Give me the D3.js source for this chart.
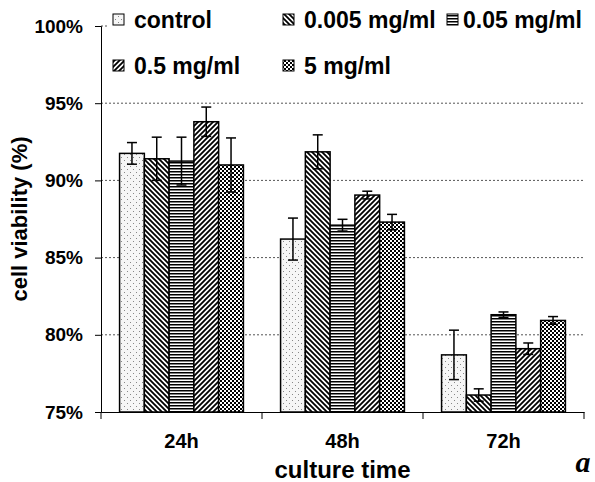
<!DOCTYPE html>
<html>
<head>
<meta charset="utf-8">
<script src="https://cdn.jsdelivr.net/npm/d3@7"></script>
<style>
  body { margin:0; background:#fff; }
  text { font-family: Arial, "Liberation Sans", sans-serif; font-weight:bold; fill:#000; }
</style>
</head>
<body>
<svg id="chart" width="595" height="482"></svg>
<script>
var times = ["24h", "48h", "72h"];
var series = ["control", "0.005 mg/ml", "0.05 mg/ml", "0.5 mg/ml", "5 mg/ml"];
// mean viability (%) per series, per time
var means = [
  [91.75, 86.2, 78.7],
  [91.4, 91.85, 76.1],
  [91.25, 87.1, 81.3],
  [93.8, 89.05, 79.1],
  [91.0, 87.3, 80.93]
];
var errs = [
  [0.7, 1.36, 1.6],
  [1.4, 1.1, 0.4],
  [1.55, 0.38, 0.18],
  [0.95, 0.25, 0.37],
  [1.75, 0.5, 0.25]
];
var yTicks = [75, 80, 85, 90, 95, 100];
var patIds = ["p_dots", "p_back", "p_horiz", "p_fwd", "p_check"];

var svg = d3.select("#chart");
var mLeft = 101, mRight = 584, mTop = 26, mBottom = 412;

var x = d3.scaleBand().domain(times).range([mLeft, mRight]).paddingInner(0).paddingOuter(0);
var xs = d3.scaleBand().domain(series).range([0, x.bandwidth()]).paddingOuter(0.75);
var y = d3.scaleLinear().domain([75, 100]).range([mBottom, mTop]);

// patterns
var defs = svg.append("defs");
var p = defs.append("pattern").attr("id", "p_dots").attr("patternUnits", "userSpaceOnUse").attr("width", 6).attr("height", 6);
p.append("rect").attr("width", 6).attr("height", 6).attr("fill", "#f6f6f6");
p.append("rect").attr("x", 1).attr("y", 1).attr("width", 1).attr("height", 1).attr("fill", "#888");
p.append("rect").attr("x", 4).attr("y", 4).attr("width", 1).attr("height", 1).attr("fill", "#888");

p = defs.append("pattern").attr("id", "p_back").attr("patternUnits", "userSpaceOnUse").attr("width", 5).attr("height", 5);
p.append("rect").attr("width", 5).attr("height", 5).attr("fill", "#fff");
p.append("path").attr("d", "M-1,-1L6,6M4,-1L6,1M-1,4L1,6").attr("stroke", "#000").attr("stroke-width", 1.8);

p = defs.append("pattern").attr("id", "p_horiz").attr("patternUnits", "userSpaceOnUse").attr("width", 4).attr("height", 3);
p.append("rect").attr("width", 4).attr("height", 3).attr("fill", "#fff");
p.append("rect").attr("y", 0).attr("width", 4).attr("height", 1.5).attr("fill", "#000");

p = defs.append("pattern").attr("id", "p_fwd").attr("patternUnits", "userSpaceOnUse").attr("width", 5).attr("height", 5);
p.append("rect").attr("width", 5).attr("height", 5).attr("fill", "#fff");
p.append("path").attr("d", "M-1,6L6,-1M4,6L6,4M-1,1L1,-1").attr("stroke", "#000").attr("stroke-width", 1.8);

p = defs.append("pattern").attr("id", "p_check").attr("patternUnits", "userSpaceOnUse").attr("width", 4).attr("height", 4);
p.append("rect").attr("width", 4).attr("height", 4).attr("fill", "#fff");
p.append("rect").attr("width", 2).attr("height", 2).attr("fill", "#000");
p.append("rect").attr("x", 2).attr("y", 2).attr("width", 2).attr("height", 2).attr("fill", "#000");

// gridlines
svg.append("g").selectAll("line").data(yTicks.slice(1)).enter().append("line")
  .attr("x1", mLeft).attr("x2", mRight)
  .attr("y1", function(d){ return y(d); }).attr("y2", function(d){ return y(d); })
  .attr("stroke", "#555").attr("stroke-width", 1).attr("stroke-dasharray", "2,2");

// bars
for (var s = 0; s < series.length; s++) {
  var g = svg.append("g");
  for (var t = 0; t < times.length; t++) {
    var bx = x(times[t]) + xs(series[s]);
    g.append("rect")
      .attr("x", bx).attr("y", y(means[s][t]))
      .attr("width", xs.bandwidth()).attr("height", mBottom - y(means[s][t]))
      .attr("fill", "url(#" + patIds[s] + ")")
      .attr("stroke", "#000").attr("stroke-width", 1.5);
  }
}

// error bars
for (var s = 0; s < series.length; s++) {
  for (var t = 0; t < times.length; t++) {
    var cx = x(times[t]) + xs(series[s]) + xs.bandwidth() / 2;
    var y1 = y(means[s][t] + errs[s][t]), y2 = y(means[s][t] - errs[s][t]);
    svg.append("line").attr("x1", cx).attr("x2", cx).attr("y1", y1).attr("y2", y2)
      .attr("stroke", "#000").attr("stroke-width", 1.5);
    [y1, y2].forEach(function(yy){
      svg.append("line").attr("x1", cx - 5).attr("x2", cx + 5).attr("y1", yy).attr("y2", yy)
        .attr("stroke", "#000").attr("stroke-width", 1.5);
    });
  }
}

// axes
var yAxis = d3.axisLeft(y).tickValues(yTicks).tickSize(6).tickPadding(12)
  .tickFormat(function(d){ return d + "%"; });
var ya = svg.append("g").attr("transform", "translate(" + mLeft + ",0)").call(yAxis);
ya.select(".domain").attr("stroke", "#000").attr("stroke-width", 1);
ya.selectAll(".tick line").attr("stroke", "#000");
ya.selectAll("text").style("font-size", "19px").style("font-weight", "bold").style("font-family", "Arial, 'Liberation Sans', sans-serif").attr("fill", "#000");

var xa = svg.append("g").attr("transform", "translate(0," + mBottom + ")")
  .call(d3.axisBottom(x).tickSize(0).tickPadding(22));
xa.select(".domain").attr("stroke", "#000").attr("stroke-width", 1);
xa.selectAll("text").style("font-size", "20px").style("font-weight", "bold").style("font-family", "Arial, 'Liberation Sans', sans-serif").attr("fill", "#000");
var edges = [mLeft].concat(times.map(function(d){ return x(d) + x.bandwidth(); }));
xa.selectAll(".edge").data(edges).enter().append("line").attr("class", "edge")
  .attr("x1", function(d){ return d; }).attr("x2", function(d){ return d; })
  .attr("y1", 0).attr("y2", 7).attr("stroke", "#000");

// axis titles
svg.append("text").attr("x", (mLeft + mRight) / 2).attr("y", 478).attr("text-anchor", "middle")
  .style("font-size", "24px").text("culture time");
svg.append("text").attr("transform", "translate(27," + ((mTop + mBottom) / 2) + ") rotate(-90)")
  .attr("text-anchor", "middle").style("font-size", "22px").text("cell viability (%)");
svg.append("text").attr("x", 583).attr("y", 472).attr("text-anchor", "middle")
  .style("font-family", "'Liberation Serif', 'Times New Roman', serif").style("font-style", "italic")
  .style("font-size", "30px").text("a");

// legend
var lg = svg.append("g");
lg.append("rect").attr("x", 108).attr("y", 2).attr("width", 487).attr("height", 84).attr("fill", "#fff");
var legPos = [[113, 20], [283, 20], [447, 20], [113, 66], [283, 66]];
for (var s = 0; s < series.length; s++) {
  lg.append("rect").attr("x", legPos[s][0]).attr("y", legPos[s][1] - 6)
    .attr("width", 11).attr("height", 11)
    .attr("fill", "url(#" + patIds[s] + ")").attr("stroke", "#000").attr("stroke-width", 1);
  lg.append("text").attr("x", legPos[s][0] + (s == 2 ? 16 : 21)).attr("y", legPos[s][1] + 8)
    .style("font-size", "23px").text(series[s]);
}
</script>
</body>
</html>
